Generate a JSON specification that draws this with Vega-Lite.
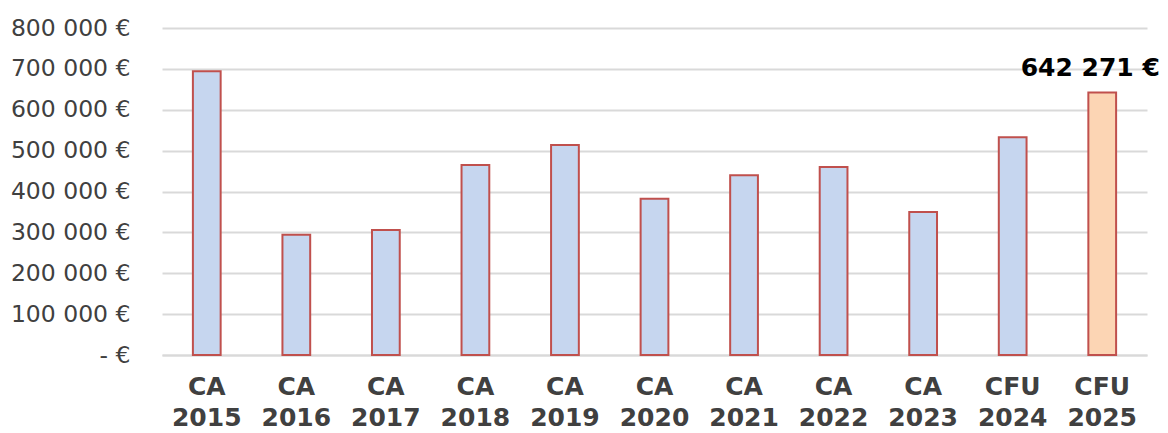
{
  "$schema": "https://vega.github.io/schema/vega-lite/v6.json",
  "autosize": {"type": "none"},
  "padding": {"left": 162, "top": 28, "right": 21, "bottom": 78},
  "width": 985,
  "height": 327,
  "background": "white",
  "config": {"view": {"stroke": null}, "font": "DejaVu Sans"},
  "data": {
    "values": [
      {"cat": "CA 2015", "value": 694000, "type": "CA"},
      {"cat": "CA 2016", "value": 294000, "type": "CA"},
      {"cat": "CA 2017", "value": 306000, "type": "CA"},
      {"cat": "CA 2018", "value": 465000, "type": "CA"},
      {"cat": "CA 2019", "value": 514000, "type": "CA"},
      {"cat": "CA 2020", "value": 382000, "type": "CA"},
      {"cat": "CA 2021", "value": 440000, "type": "CA"},
      {"cat": "CA 2022", "value": 460000, "type": "CA"},
      {"cat": "CA 2023", "value": 350000, "type": "CA"},
      {"cat": "CFU 2024", "value": 533000, "type": "CFU"},
      {"cat": "CFU 2025", "value": 642271, "type": "CFU25"}
    ]
  },
  "encoding": {
    "x": {
      "field": "cat", "type": "nominal", "sort": null,
      "scale": {"paddingInner": 0.69, "paddingOuter": 0.345},
      "axis": {
        "title": null, "labelAngle": 0, "ticks": false,
        "domainColor": "#d9d9d9", "domainWidth": 2,
        "labelExpr": "split(datum.value, ' ')",
        "labelFont": "DejaVu Sans", "labelFontWeight": "bold", "labelFontSize": 25,
        "labelLineHeight": 31, "labelColor": "#404040", "labelPadding": 19,
        "labelBaseline": "top"
      }
    },
    "y": {
      "field": "value", "type": "quantitative",
      "scale": {"domain": [0, 800000], "nice": false},
      "axis": {
        "title": null, "values": [0,100000,200000,300000,400000,500000,600000,700000,800000],
        "ticks": false, "domain": false, "gridColor": "#d9d9d9", "gridWidth": 2,
        "labelExpr": "datum.value == 0 ? '- €' : format(datum.value/1000, 'd') + ' 000 €'",
        "labelFont": "DejaVu Sans", "labelFontSize": 23.5, "labelColor": "#404040",
        "labelPadding": 32
      }
    }
  },
  "layer": [
    {
      "mark": {"type": "bar", "stroke": "#C0504D", "strokeWidth": 2},
      "encoding": {
        "fill": {
          "field": "type", "type": "nominal", "legend": null,
          "scale": {"domain": ["CA", "CFU", "CFU25"], "range": ["#C6D6EF", "#C6D6EF", "#FCD5B4"]}
        }
      }
    },
    {
      "transform": [{"filter": "datum.type == 'CFU25'"}],
      "mark": {"type": "text", "font": "DejaVu Sans", "fontWeight": "bold", "fontSize": 25, "color": "#000000", "baseline": "alphabetic", "align": "center", "dx": -12, "dy": -16},
      "encoding": {
        "text": {"value": "642 271 €"}
      }
    }
  ]
}
